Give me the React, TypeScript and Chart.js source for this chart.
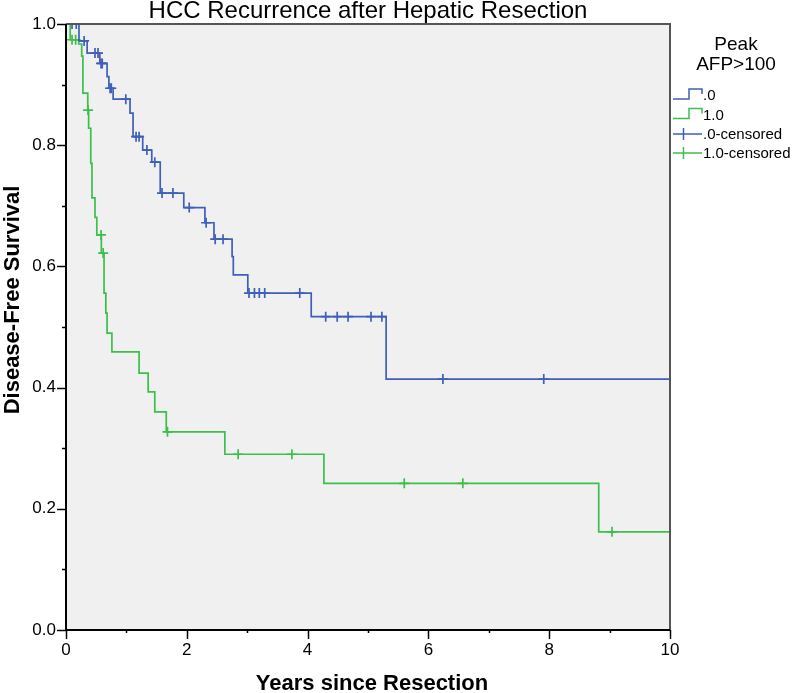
import React, { useEffect, useRef } from "react";
import { Chart, registerables } from "chart.js";

Chart.register(...registerables);

// ---- data ----
const BLUE = "#3f5fb8";
const GREEN = "#3cbf4b";

const blueTimes = [0, 0.215, 0.35, 0.56, 0.68, 0.71, 0.78, 1.06, 1.11, 1.27, 1.42, 1.56, 1.95, 2.3, 2.45, 2.75, 2.77, 3.01, 4.06, 5.3, 10];
const blueSurv = [1.0, 0.972, 0.952, 0.935, 0.913, 0.894, 0.876, 0.853, 0.814, 0.792, 0.772, 0.721, 0.697, 0.672, 0.645, 0.616, 0.586, 0.556, 0.517, 0.414, 0.414];
const blueCensored = [0.1, 0.17, 0.3, 0.48, 0.53, 0.58, 0.6, 0.73, 0.75, 0.99, 1.16, 1.21, 1.34, 1.47, 1.59, 1.77, 2.04, 2.32, 2.47, 2.6, 3.03, 3.12, 3.2, 3.29, 3.87, 4.3, 4.49, 4.67, 5.05, 5.23, 6.24, 7.91];

const greenTimes = [0, 0.07, 0.21, 0.26, 0.28, 0.36, 0.375, 0.41, 0.43, 0.48, 0.51, 0.585, 0.63, 0.66, 0.68, 0.76, 1.21, 1.36, 1.47, 1.66, 2.63, 4.27, 8.82, 10];
const greenSurv = [1.0, 0.974, 0.967, 0.947, 0.886, 0.858, 0.828, 0.77, 0.713, 0.681, 0.652, 0.622, 0.556, 0.523, 0.49, 0.459, 0.424, 0.393, 0.36, 0.327, 0.29, 0.242, 0.162, 0.162];
const greenCensored = [0.1, 0.16, 0.365, 0.58, 0.615, 1.68, 2.85, 3.74, 5.6, 6.57, 9.04];

const xTicks = [0, 1, 2, 3, 4, 5, 6, 7, 8, 9, 10];
const yTicks = [0, 0.1, 0.2, 0.3, 0.4, 0.5, 0.6, 0.7, 0.8, 0.9, 1.0];

const titleText = "HCC Recurrence after Hepatic Resection";
const xTitle = "Years since Resection";
const yTitle = "Disease-Free Survival";
const legendTitle = ["Peak", "AFP>100"];
const legendLabels = [".0", "1.0", ".0-censored", "1.0-censored"];

function survAt(times: number[], surv: number[], t: number) {
  let s = 1;
  for (let i = 0; i < times.length; i++) if (times[i] <= t) s = surv[i];
  return s;
}

const FONT = "'Liberation Sans', Arial, sans-serif";

const bgPlugin = {
  id: "bgPlugin",
  beforeDraw(chart: any) {
    const { ctx, chartArea: a } = chart;
    ctx.save();
    ctx.fillStyle = "#ffffff";
    ctx.fillRect(0, 0, chart.width, chart.height);
    ctx.fillStyle = "#f0f0f0";
    ctx.fillRect(a.left, a.top, a.right - a.left, a.bottom - a.top);
    ctx.restore();
  },
};

const decorPlugin = {
  id: "decorPlugin",
  afterDraw(chart: any) {
    const { ctx, chartArea: a } = chart;
    const xs = chart.scales.x;
    const ys = chart.scales.y;
    ctx.save();
    // borders
    ctx.lineWidth = 2;
    ctx.strokeStyle = "#555555";
    ctx.beginPath();
    ctx.moveTo(a.left, a.top);
    ctx.lineTo(a.right, a.top);
    ctx.lineTo(a.right, a.bottom);
    ctx.stroke();
    ctx.strokeStyle = "#000000";
    ctx.beginPath();
    ctx.moveTo(a.left, a.top);
    ctx.lineTo(a.left, a.bottom);
    ctx.lineTo(a.right, a.bottom);
    ctx.stroke();
    // ticks
    ctx.lineWidth = 1.5;
    yTicks.forEach((v, i) => {
      const y = Math.round(ys.getPixelForValue(v)) + 0.5;
      const len = i % 2 === 0 ? 9 : 4;
      ctx.beginPath();
      ctx.moveTo(a.left - len, y);
      ctx.lineTo(a.left, y);
      ctx.stroke();
    });
    xTicks.forEach((v, i) => {
      const x = Math.round(xs.getPixelForValue(v)) + 0.5;
      const len = i % 2 === 0 ? 9 : 3;
      ctx.beginPath();
      ctx.moveTo(x, a.bottom);
      ctx.lineTo(x, a.bottom + len);
      ctx.stroke();
    });
    // titles
    ctx.fillStyle = "#000";
    ctx.textAlign = "center";
    ctx.textBaseline = "alphabetic";
    ctx.font = `24px ${FONT}`;
    ctx.fillText(titleText, (a.left + a.right) / 2, 18);
    ctx.font = `bold 22px ${FONT}`;
    ctx.fillText(xTitle, 372, 690);
    ctx.save();
    ctx.translate(19, 300);
    ctx.rotate(-Math.PI / 2);
    ctx.fillText(yTitle, 0, 0);
    ctx.restore();
    // legend
    ctx.font = `19px ${FONT}`;
    ctx.textBaseline = "middle";
    ctx.fillText(legendTitle[0], 736, 45);
    ctx.fillText(legendTitle[1], 736, 65);
    ctx.textAlign = "left";
    ctx.font = `15px ${FONT}`;
    const rows = [95, 114.5, 134, 153];
    const cols = [BLUE, GREEN, BLUE, GREEN];
    rows.forEach((y, i) => {
      ctx.strokeStyle = cols[i];
      ctx.lineWidth = 1.5;
      ctx.beginPath();
      if (i < 2) {
        ctx.moveTo(673, y + 4);
        ctx.lineTo(689, y + 4);
        ctx.lineTo(689, y - 6);
        ctx.lineTo(702, y - 6);
        ctx.lineTo(702, y - 1);
      } else {
        ctx.moveTo(673, y);
        ctx.lineTo(702, y);
        ctx.moveTo(683.5, y - 6);
        ctx.lineTo(683.5, y + 6);
      }
      ctx.stroke();
      ctx.fillStyle = "#000";
      ctx.fillText(legendLabels[i], 703, y + 1);
    });
    ctx.restore();
  },
};

export default function App() {
  const ref = useRef<HTMLCanvasElement | null>(null);
  useEffect(() => {
    if (!ref.current) return;
    const bluePts = blueTimes.map((t, i) => ({ x: t, y: blueSurv[i] }));
    const greenPts = greenTimes.map((t, i) => ({ x: t, y: greenSurv[i] }));
    const blueC = blueCensored.map((t) => ({ x: t, y: survAt(blueTimes, blueSurv, t) }));
    const greenC = greenCensored.map((t) => ({ x: t, y: survAt(greenTimes, greenSurv, t) }));
    const tickFont = { family: FONT, size: 17 };
    const chart = new Chart(ref.current, {
      type: "line",
      data: {
        datasets: [
          { label: legendLabels[0], data: bluePts, borderColor: BLUE, borderWidth: 1.7, stepped: true, pointRadius: 0, fill: false } as any,
          { label: legendLabels[1], data: greenPts, borderColor: GREEN, borderWidth: 1.7, stepped: true, pointRadius: 0, fill: false } as any,
          { type: "scatter", label: legendLabels[2], data: blueC, borderColor: BLUE, backgroundColor: BLUE, pointStyle: "cross", pointRadius: 5, pointBorderWidth: 1.7, showLine: false } as any,
          { type: "scatter", label: legendLabels[3], data: greenC, borderColor: GREEN, backgroundColor: GREEN, pointStyle: "cross", pointRadius: 5, pointBorderWidth: 1.7, showLine: false } as any,
        ],
      },
      options: {
        responsive: false,
        animation: false,
        events: [],
        layout: { padding: { left: 0, right: 130, top: 24, bottom: 0 } },
        plugins: { legend: { display: false }, tooltip: { enabled: false }, title: { display: false } },
        scales: {
          x: {
            type: "linear",
            min: 0,
            max: 10,
            afterFit: (s: any) => { s.height = 63; },
            grid: { display: false, drawTicks: false },
            border: { display: false },
            afterBuildTicks: (s: any) => { s.ticks = xTicks.map((v) => ({ value: v })); },
            ticks: {
              autoSkip: false,
              maxRotation: 0,
              padding: 10,
              color: "#000",
              font: tickFont,
              callback: (v: any) => (Math.round(v) % 2 === 0 ? String(v) : ""),
            },
          },
          y: {
            type: "linear",
            min: 0,
            max: 1,
            afterFit: (s: any) => { s.width = 66; },
            grid: { display: false, drawTicks: false },
            border: { display: false },
            afterBuildTicks: (s: any) => { s.ticks = yTicks.map((v) => ({ value: v })); },
            ticks: {
              autoSkip: false,
              padding: 10,
              color: "#000",
              font: tickFont,
              callback: (v: any) => (Math.round(v * 10) % 2 === 0 ? Number(v).toFixed(1) : ""),
            },
          },
        },
      } as any,
      plugins: [bgPlugin, decorPlugin],
    });
    return () => chart.destroy();
  }, []);
  return (
    <div style={{ position: "absolute", left: 0, top: 0, width: 800, height: 693 }}>
      <canvas ref={ref} width={800} height={693} style={{ display: "block" }} />
    </div>
  );
}
